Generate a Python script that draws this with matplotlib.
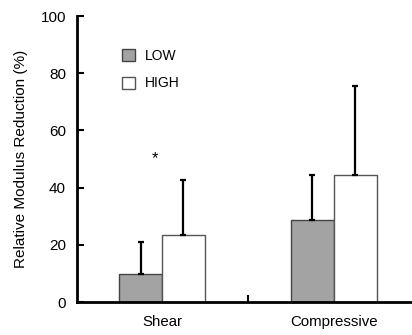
import matplotlib
matplotlib.use("Agg")
import matplotlib.pyplot as plt
import numpy as np
from matplotlib.patches import Patch

categories = ["Shear", "Compressive"]
low_values = [9.8, 28.8]
low_errors = [11.3, 15.7]
high_values = [23.5, 44.5]
high_errors = [19.2, 31.0]
series_labels = ["LOW", "HIGH"]
y_ticks = [0, 20, 40, 60, 80, 100]

plt.rcParams["font.family"] = ["Liberation Sans", "DejaVu Sans"]

fig = plt.figure(figsize=(4.12, 3.35), dpi=100)
ax = fig.add_axes([0.187, 0.0985, 0.813, 0.8535])

x = np.arange(len(categories))
w = 0.25
err_kw = dict(ecolor="black", elinewidth=1.6, capsize=2.5, capthick=1.6)
ax.bar(x - w / 2, low_values, w, color="#a3a3a3", edgecolor="#444444",
       linewidth=1.0, yerr=[np.zeros(2), low_errors], error_kw=err_kw, zorder=2)
ax.bar(x + w / 2, high_values, w, color="white", edgecolor="#555555",
       linewidth=1.0, yerr=[np.zeros(2), high_errors], error_kw=err_kw, zorder=2)

ax.text(-0.04, 50, "*", ha="center", va="center", fontsize=12)

ax.set_xlim(-0.495, 1.456)
ax.set_ylim(0, 100)
ax.set_yticks(y_ticks)
ax.set_xticks([0.5])
ax.set_xticklabels([""])
for xi, name in zip(x, categories):
    ax.text(xi, -4.5, name, ha="center", va="top", fontsize=10.8)

ax.tick_params(axis="y", direction="in", length=5, width=1.5, labelsize=11, pad=8)
ax.tick_params(axis="x", direction="in", length=5, width=1.5)
ax.spines["top"].set_visible(False)
ax.spines["right"].set_visible(False)
ax.spines["left"].set_linewidth(2)
ax.spines["bottom"].set_linewidth(2)
ax.set_ylabel("Relative Modulus Reduction (%)", fontsize=11, labelpad=9)

handles = [Patch(facecolor="#a3a3a3", edgecolor="#444444", linewidth=1.0),
           Patch(facecolor="white", edgecolor="#555555", linewidth=1.0)]
ax.legend(handles, series_labels, loc="upper left", bbox_to_anchor=(0.097, 0.93),
          frameon=False, fontsize=10, handlelength=0.9, handleheight=0.95,
          handletextpad=0.75, labelspacing=1.0)

fig.savefig("out.png", dpi=100)
